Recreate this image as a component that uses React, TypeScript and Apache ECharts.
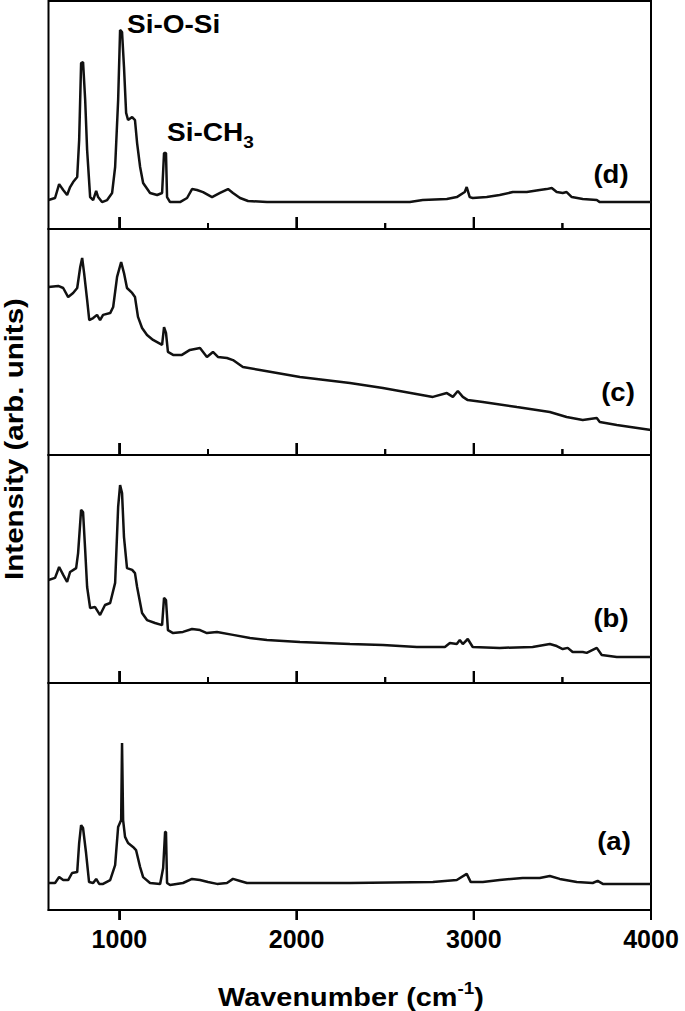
import React, { useEffect, useRef } from "react";
import * as echarts from "echarts";

const X_MIN = 600;
const X_MAX = 4000;
const majorTicks = [1000, 2000, 3000];
const minorTicks = [1500, 2500, 3500];
const bottomTicks = [1000, 2000, 3000, 4000];

// Panel (d) – top
const spectrumD: [number, number][] = [
  [600, 12.7], [637, 13.6], [660, 19.7], [683, 17.1], [705, 14.9], [722, 18.4], [739, 20.6], [762, 22.8],
  [773, 39.0], [784, 72.8], [795, 73.2], [807, 56.6], [818, 34.6], [835, 14.0], [852, 12.7], [869, 16.7],
  [880, 14.0], [902, 11.8], [931, 12.7], [959, 15.8], [976, 27.2], [993, 56.6], [1004, 87.3], [1015, 86.4],
  [1026, 71.1], [1038, 50.9], [1049, 47.8], [1072, 49.1], [1088, 47.8], [1100, 37.7], [1117, 27.2],
  [1134, 20.2], [1173, 15.8], [1213, 14.9], [1241, 15.8], [1252, 33.3], [1263, 33.3], [1269, 14.0],
  [1286, 11.8], [1342, 11.8], [1382, 13.6], [1410, 17.5], [1438, 17.1], [1472, 16.2], [1523, 14.0],
  [1568, 15.8], [1613, 17.5], [1641, 15.8], [1681, 13.6], [1726, 12.3], [1833, 11.8], [2019, 11.8],
  [2205, 11.8], [2639, 11.8], [2712, 12.7], [2848, 13.2], [2904, 14.0], [2949, 16.2], [2960, 18.4],
  [2977, 14.0], [2994, 13.6], [3073, 14.0], [3146, 14.9], [3220, 16.2], [3299, 16.2], [3372, 17.1],
  [3411, 17.5], [3440, 18.0], [3468, 16.2], [3502, 15.8], [3524, 16.2], [3553, 14.0], [3615, 13.2],
  [3694, 12.7], [3711, 11.8], [4000, 11.8],
];

// Panel (c)
const spectrumC: [number, number][] = [
  [600, 74.3], [655, 74.8], [683, 73.9], [711, 69.9], [739, 71.7], [762, 73.9], [779, 83.2], [790, 87.2],
  [801, 80.5], [818, 68.6], [830, 59.7], [852, 60.6], [874, 62.0], [891, 59.7], [908, 62.0], [948, 62.8],
  [965, 65.5], [987, 78.8], [1010, 85.4], [1026, 80.5], [1043, 73.9], [1072, 71.7], [1088, 69.9],
  [1105, 61.1], [1128, 56.2], [1156, 53.1], [1190, 50.9], [1241, 48.7], [1252, 56.6], [1263, 54.0],
  [1274, 45.6], [1303, 44.3], [1353, 44.3], [1398, 46.5], [1455, 47.3], [1494, 43.4], [1528, 45.6],
  [1556, 43.4], [1607, 42.9], [1641, 42.0], [1697, 38.9], [1793, 37.6], [2019, 34.5], [2301, 31.9],
  [2487, 29.6], [2769, 25.7], [2848, 27.4], [2882, 25.7], [2910, 28.3], [2938, 25.7], [2966, 24.3],
  [3051, 23.5], [3243, 21.2], [3429, 19.0], [3524, 16.8], [3615, 15.5], [3694, 16.4], [3711, 14.6],
  [3807, 13.3], [4000, 11.1],
];

// Panel (b)
const spectrumB: [number, number][] = [
  [600, 45.2], [637, 46.1], [660, 50.9], [683, 47.4], [705, 44.3], [722, 48.7], [756, 50.4], [767, 57.0],
  [784, 75.9], [795, 75.0], [807, 58.3], [818, 42.1], [835, 32.9], [863, 33.3], [891, 29.8], [919, 34.2],
  [948, 35.1], [976, 43.9], [993, 77.2], [1004, 86.8], [1015, 83.3], [1026, 64.0], [1043, 50.4],
  [1072, 49.6], [1088, 48.2], [1100, 42.1], [1128, 30.7], [1156, 27.6], [1201, 26.3], [1241, 25.4],
  [1252, 37.3], [1263, 36.4], [1274, 23.2], [1303, 21.9], [1359, 22.4], [1410, 23.7], [1455, 23.2],
  [1494, 21.9], [1551, 22.4], [1641, 21.1], [1737, 19.7], [1833, 18.9], [2019, 18.0], [2301, 17.1],
  [2487, 16.7], [2679, 15.8], [2837, 15.8], [2865, 17.5], [2904, 17.1], [2921, 18.9], [2938, 17.1],
  [2966, 19.3], [2994, 15.8], [3146, 15.4], [3332, 15.8], [3429, 17.1], [3468, 16.2], [3502, 14.9],
  [3530, 15.4], [3558, 13.6], [3615, 13.6], [3637, 13.2], [3694, 15.4], [3722, 12.3], [3807, 11.4],
  [4000, 11.4],
];

// Panel (a) – bottom
const spectrumA: [number, number][] = [
  [600, 11.9], [637, 11.9], [660, 14.5], [683, 13.2], [711, 13.2], [733, 16.3], [762, 16.7], [773, 29.5],
  [784, 37.4], [795, 36.1], [812, 25.1], [829, 12.3], [852, 11.9], [869, 13.7], [886, 11.5], [908, 11.5],
  [948, 13.2], [976, 19.8], [993, 36.6], [1010, 39.6], [1015, 73.6], [1021, 39.6], [1032, 32.2],
  [1049, 29.5], [1077, 27.8], [1094, 26.4], [1117, 18.9], [1134, 14.5], [1173, 11.9], [1230, 11.5],
  [1247, 18.5], [1258, 34.4], [1263, 34.4], [1269, 11.9], [1286, 11.0], [1359, 11.9], [1410, 13.7],
  [1455, 13.2], [1500, 12.3], [1551, 11.5], [1607, 11.9], [1641, 13.7], [1681, 12.8], [1720, 11.9],
  [1833, 11.9], [2301, 11.9], [2769, 12.3], [2904, 13.2], [2960, 15.9], [2983, 12.3], [3051, 12.3],
  [3146, 13.2], [3276, 14.1], [3372, 14.1], [3429, 15.0], [3485, 13.7], [3581, 12.3], [3671, 11.9],
  [3699, 12.8], [3728, 11.5], [3807, 11.5], [4000, 11.5],
];

const panelSpectra = [spectrumD, spectrumC, spectrumB, spectrumA];
const panelLabels = ["(d)", "(c)", "(b)", "(a)"];

const FONT = '"Liberation Sans", Arial, sans-serif';

export default function App() {
  const ref = useRef<HTMLDivElement>(null);

  useEffect(() => {
    if (!ref.current) return;
    const chart = echarts.init(ref.current, undefined, { renderer: "svg" });

    const gridTops = [1, 229, 455, 683];
    const gridHeights = [228, 226, 228, 227];
    const labelPos = [
      [611, 174],
      [618, 392],
      [611, 618],
      [614, 841],
    ];

    const grids: any[] = [];
    const xAxes: any[] = [];
    const yAxes: any[] = [];
    const series: any[] = [];

    panelSpectra.forEach((data, i) => {
      const isBottom = i === panelSpectra.length - 1;
      const h = gridHeights[i];
      grids.push({
        left: 48.5,
        right: 34,
        top: gridTops[i],
        height: h,
        show: true,
        borderColor: "#000",
        borderWidth: 2,
        backgroundColor: "transparent",
      });
      xAxes.push({
        type: "value",
        gridIndex: i,
        min: X_MIN,
        max: X_MAX,
        position: "bottom",
        axisLine: { show: true, lineStyle: { color: "#000", width: 2 } },
        splitLine: { show: false },
        axisTick: {
          show: true,
          inside: !isBottom,
          length: isBottom ? 10 : 12,
          customValues: isBottom ? bottomTicks : majorTicks,
          lineStyle: { color: "#000", width: 2 },
        },
        axisLabel: isBottom
          ? {
              show: true,
              customValues: bottomTicks,
              formatter: (v: number) => String(v),
              fontSize: 25,
              fontWeight: "bold",
              fontFamily: FONT,
              color: "#000",
              margin: 16,
            }
          : { show: false },
      });
      yAxes.push({
        type: "value",
        gridIndex: i,
        min: 0,
        max: 100,
        show: false,
      });
      series.push({
        type: "line",
        xAxisIndex: i,
        yAxisIndex: i,
        data,
        showSymbol: false,
        symbol: "none",
        lineStyle: { color: "#111", width: 2.5 },
        silent: true,
      });
      // tick marks as thin bars (value = tick length in axis units)
      const bars = (vals: number[], px: number) =>
        vals.map((v) => [v, (px / h) * 100]);
      const tickData = isBottom
        ? bars(bottomTicks, -10)
        : [...bars(majorTicks, 12), ...bars(minorTicks, 6)];
      series.push({
        type: "bar",
        xAxisIndex: i,
        yAxisIndex: i,
        data: tickData,
        barWidth: 2,
        barGap: "-100%",
        clip: false,
        z: 4,
        silent: true,
        itemStyle: { color: "#000" },
      });
    });

    const graphics: any[] = [
      {
        id: "ytitle",
        type: "text",
        x: 14,
        y: 439,
        rotation: Math.PI / 2,
        scaleX: 1.18,
        style: {
          text: "Intensity (arb. units)",
          fontSize: 25,
          fontWeight: "bold",
          fontFamily: FONT,
          fill: "#000",
          align: "center",
          verticalAlign: "middle",
        },
      },
      {
        id: "xtitle",
        type: "text",
        x: 351,
        y: 997,
        scaleX: 1.11,
        style: {
          text: "{m|Wavenumber (cm}{s|-1}{m|)}",
          fill: "#000",
          align: "center",
          verticalAlign: "middle",
          rich: {
            m: { fontSize: 26, fontWeight: "bold", fontFamily: FONT, lineHeight: 34, fill: "#000" },
            s: { fontSize: 17, fontWeight: "bold", fontFamily: FONT, lineHeight: 17, verticalAlign: "top", fill: "#000" },
          },
        },
      },
      {
        id: "sios",
        type: "text",
        x: 127,
        y: 25,
        scaleX: 1.12,
        style: {
          text: "Si-O-Si",
          fontSize: 25,
          fontWeight: "bold",
          fontFamily: FONT,
          fill: "#000",
          align: "left",
          verticalAlign: "middle",
        },
      },
      {
        id: "sich3",
        type: "text",
        x: 167,
        y: 133,
        scaleX: 1.12,
        style: {
          text: "{m|Si-CH}{s|3}",
          fill: "#000",
          align: "left",
          verticalAlign: "middle",
          rich: {
            m: { fontSize: 25, fontWeight: "bold", fontFamily: FONT, lineHeight: 36, fill: "#000" },
            s: { fontSize: 17, fontWeight: "bold", fontFamily: FONT, lineHeight: 17, verticalAlign: "bottom", fill: "#000" },
          },
        },
      },
    ];

    panelLabels.forEach((label, i) => {
      graphics.push({
        id: "plabel" + i,
        type: "text",
        x: labelPos[i][0],
        y: labelPos[i][1],
        scaleX: 1.1,
        style: {
          text: label,
          fontSize: 25,
          fontWeight: "bold",
          fontFamily: FONT,
          fill: "#000",
          align: "center",
          verticalAlign: "middle",
        },
      });
    });

    chart.setOption({
      animation: false,
      backgroundColor: "#fff",
      grid: grids,
      xAxis: xAxes,
      yAxis: yAxes,
      series,
      graphic: graphics,
    });

    // Extra safety: tick marks as graphic polygons placed via the axis scales
    try {
      const extra: any[] = [];
      panelSpectra.forEach((_d, i) => {
        const isBottom = i === panelSpectra.length - 1;
        const add = (vals: number[], len: number, key: string) => {
          vals.forEach((v, k) => {
            const p = chart.convertToPixel({ gridIndex: i } as any, [v, 0]) as number[];
            if (!p || !isFinite(p[0]) || !isFinite(p[1])) return;
            const y2 = p[1] - len;
            extra.push({
              id: `tk-${i}-${key}-${k}`,
              type: "polygon",
              z: 100,
              shape: {
                points: [
                  [p[0] - 1, p[1]],
                  [p[0] + 1, p[1]],
                  [p[0] + 1, y2],
                  [p[0] - 1, y2],
                ],
              },
              style: { fill: "#000" },
            });
          });
        };
        if (isBottom) add(bottomTicks, -10, "b");
        else {
          add(majorTicks, 12, "M");
          add(minorTicks, 6, "m");
        }
      });
      if (extra.length) chart.setOption({ graphic: [...graphics, ...extra] });
    } catch (e) {
      // ignore
    }

    return () => {
      chart.dispose();
    };
  }, []);

  return (
    <div
      ref={ref}
      style={{ position: "absolute", left: 0, top: 0, width: 685, height: 1011 }}
    />
  );
}
